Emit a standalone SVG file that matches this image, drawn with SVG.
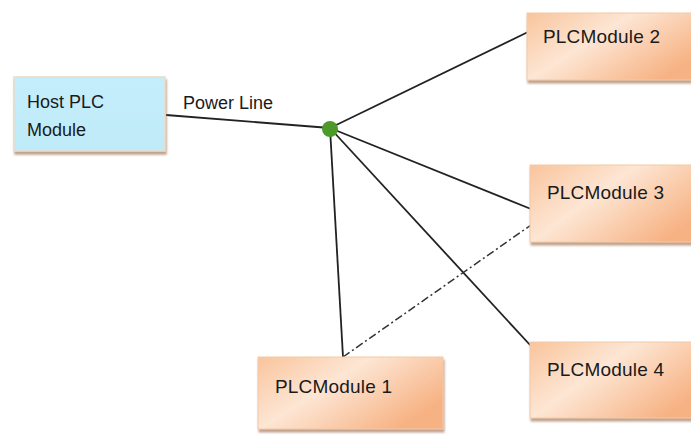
<svg xmlns="http://www.w3.org/2000/svg" width="691" height="434" viewBox="0 0 691 434">
<defs>
<linearGradient id="org" x1="0" y1="0" x2="1" y2="0.6">
<stop offset="0" stop-color="#f9c49c"/>
<stop offset="0.45" stop-color="#fde6d4"/>
<stop offset="1" stop-color="#f7b283"/>
</linearGradient>
<linearGradient id="cy" x1="0" y1="0" x2="0" y2="1">
<stop offset="0" stop-color="#c4eefb"/>
<stop offset="1" stop-color="#bfeaf8"/>
</linearGradient>
<filter id="sh" x="-10%" y="-10%" width="130%" height="140%">
<feGaussianBlur in="SourceAlpha" stdDeviation="1.2"/>
<feOffset dx="1" dy="3" result="b"/>
<feFlood flood-color="#a5785a" flood-opacity="0.7"/>
<feComposite in2="b" operator="in"/>
<feMerge><feMergeNode/><feMergeNode in="SourceGraphic"/></feMerge>
</filter>
</defs>
<style>
.t{font-family:"Liberation Sans",Arial,sans-serif;font-size:18px;fill:#1a1a1a}
.m{font-size:19px}
.box{fill:url(#org);stroke:#f3c9a6;stroke-width:1;filter:url(#sh)}
.host{fill:url(#cy);stroke:#e9dcc8;stroke-width:1.5;filter:url(#sh)}
.ln{stroke:#222;stroke-width:1.8;fill:none}
.dd{stroke:#333;stroke-width:1.5;fill:none;stroke-dasharray:8 3 2 3}
</style>
<rect width="691" height="434" fill="#ffffff"/>
<g id="connectors">
<line class="ln" x1="166" y1="115" x2="330" y2="128"/>
<line class="ln" x1="330" y1="128" x2="528" y2="32"/>
<line class="ln" x1="330" y1="128" x2="531" y2="209"/>
<line class="ln" x1="330" y1="128" x2="531" y2="346"/>
<line class="ln" x1="330" y1="128" x2="343" y2="357"/>
<line class="dd" x1="343" y1="357" x2="531" y2="225"/>
<text class="t" x="183" y="109">Power Line</text>
</g>
<g id="hub"><circle cx="330" cy="129" r="8" fill="#4c9a2a"/></g>
<g id="host"><rect class="host" x="14" y="77" width="151" height="74"/>
<text class="t" x="27" y="108">Host PLC</text><text class="t" x="27" y="136">Module</text></g>
<g id="plc2"><rect class="box" x="527" y="13" width="175" height="67"/>
<text class="t m" x="543" y="43" textLength="117">PLCModule 2</text></g>
<g id="plc3"><rect class="box" x="530" y="165" width="175" height="77"/>
<text class="t m" x="547" y="199" textLength="117">PLCModule 3</text></g>
<g id="plc4"><rect class="box" x="530" y="342" width="175" height="76"/>
<text class="t m" x="547" y="376" textLength="117">PLCModule 4</text></g>
<g id="plc1"><rect class="box" x="258" y="357" width="185" height="72"/>
<text class="t m" x="275" y="393" textLength="117">PLCModule 1</text></g>
</svg>
